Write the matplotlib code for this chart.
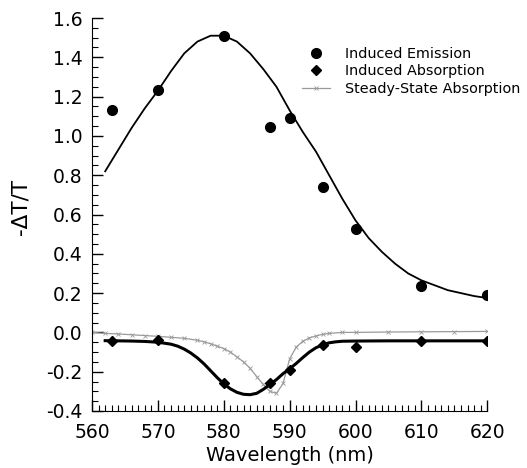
import matplotlib
matplotlib.use('Agg')
import matplotlib.pyplot as plt
from matplotlib.ticker import MultipleLocator

# measured points
wl_em = [563, 570, 580, 587, 590, 595, 600, 610, 620]
em = [1.13, 1.235, 1.51, 1.045, 1.09, 0.74, 0.525, 0.235, 0.19]

wl_abs = [563, 570, 580, 587, 590, 595, 600, 610, 620]
absn = [-0.045, -0.04, -0.255, -0.26, -0.19, -0.063, -0.075, -0.046, -0.045]

# fitted curves
wl_em_fit = [562, 564, 566, 568, 570, 572, 574, 576, 578, 580, 582, 584, 586, 588, 590,
             592, 594, 596, 598, 600, 602, 604, 606, 608, 610, 612, 614, 616, 618, 620]
em_fit = [0.82, 0.93, 1.04, 1.14, 1.23, 1.33, 1.42, 1.48, 1.51, 1.51, 1.48, 1.42, 1.34, 1.25, 1.13,
          1.02, 0.92, 0.80, 0.68, 0.57, 0.48, 0.41, 0.35, 0.30, 0.265, 0.24, 0.215, 0.20, 0.185, 0.175]

wl_abs_fit = [562, 564, 566, 568, 570, 572, 573, 574, 575, 576, 577, 578, 579, 580, 581, 582, 583,
              584, 585, 586, 587, 588, 589, 590, 591, 592, 593, 594, 595, 596, 597, 598, 600, 605,
              610, 615, 620]
abs_fit = [-0.042, -0.043, -0.044, -0.046, -0.05, -0.06, -0.07, -0.085, -0.105, -0.13, -0.16, -0.195,
           -0.23, -0.262, -0.287, -0.305, -0.315, -0.317, -0.31, -0.29, -0.265, -0.24, -0.21, -0.185,
           -0.158, -0.128, -0.10, -0.078, -0.063, -0.053, -0.048, -0.045, -0.044, -0.043, -0.043,
           -0.043, -0.043]

# steady state absorption
wl_ss = [560, 562, 564, 566, 568, 570, 572, 574, 576, 577, 578, 579, 580, 581, 582, 583, 584, 585,
         586, 587, 588, 589, 590, 591, 592, 593, 594, 595, 596, 598, 600, 605, 610, 615, 620]
ss = [0.0, -0.005, -0.008, -0.012, -0.016, -0.02, -0.025, -0.03, -0.04, -0.048, -0.058, -0.07,
      -0.082, -0.10, -0.125, -0.15, -0.183, -0.225, -0.265, -0.30, -0.31, -0.26, -0.135, -0.075,
      -0.045, -0.028, -0.018, -0.01, -0.005, 0.0, 0.0, 0.002, 0.003, 0.004, 0.005]

fig = plt.figure(figsize=(5.27, 4.68), dpi=100)
ax = fig.add_axes([0.1746, 0.1218, 0.75, 0.8397])

ax.plot(wl_ss, ss, color='#9a9a9a', lw=0.9, marker='x', ms=2.5, mew=0.6,
        label='Steady-State Absorption', zorder=2)
ax.plot(wl_em_fit, em_fit, color='black', lw=1.3, zorder=3, solid_joinstyle='round')
ax.plot(wl_abs_fit, abs_fit, color='black', lw=2.2, zorder=3, solid_joinstyle='round')
ax.plot(wl_em, em, 'o', color='black', ms=7, ls='none', label='Induced Emission', zorder=4)
ax.plot(wl_abs, absn, 'D', color='black', ms=5.5, ls='none', label='Induced Absorption', zorder=4)

ax.set_xlim(560, 620)
ax.set_ylim(-0.4, 1.6)
ax.xaxis.set_major_locator(MultipleLocator(10))
ax.xaxis.set_minor_locator(MultipleLocator(1))
ax.yaxis.set_major_locator(MultipleLocator(0.2))
ax.yaxis.set_minor_locator(MultipleLocator(0.05))
ax.yaxis.set_major_formatter(matplotlib.ticker.FormatStrFormatter('%.1f'))
ax.tick_params(which='both', direction='in', labelsize=13.5)
ax.tick_params(which='major', length=8, width=1)
ax.tick_params(which='minor', length=4, width=0.8)
ax.tick_params(axis='x', which='major', pad=8.5)
ax.tick_params(axis='y', which='major', pad=7)
ax.spines['top'].set_visible(False)
ax.spines['right'].set_visible(False)

ax.set_xlabel('Wavelength (nm)', fontsize=14, labelpad=3)
ax.set_ylabel('-ΔT/T', fontsize=15.5)
ax.yaxis.set_label_coords(-0.155, 0.52)

h, l = ax.get_legend_handles_labels()
order = [1, 2, 0]
fig.legend([h[i] for i in order], [l[i] for i in order], loc='upper left',
           bbox_to_anchor=(0.573, 0.9), frameon=False, fontsize=10.4,
           borderpad=0, borderaxespad=0,
           handlelength=1.95, labelspacing=0.25, handletextpad=1.0)

plt.savefig('out.png', dpi=100)
